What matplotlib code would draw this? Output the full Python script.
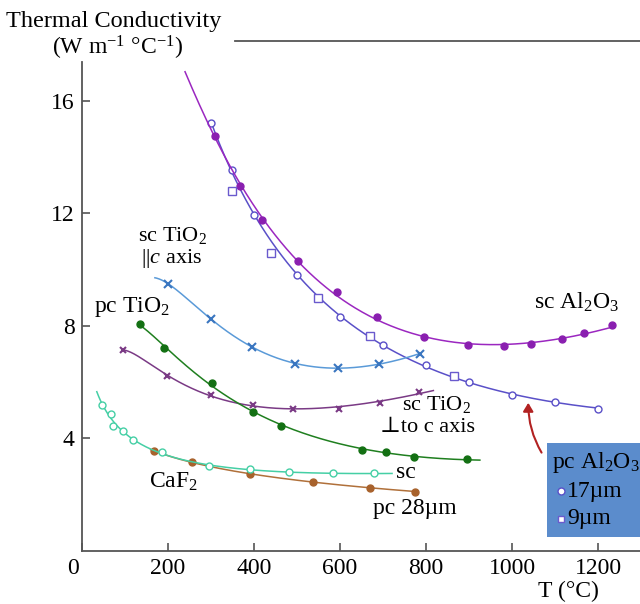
import numpy as np
import matplotlib
matplotlib.use("Agg")
import matplotlib.pyplot as plt
from matplotlib.patches import Rectangle, FancyArrowPatch
from matplotlib.lines import Line2D

plt.rcParams["font.family"] = ["Liberation Serif", "DejaVu Serif"]
plt.rcParams["mathtext.fontset"] = "custom"
plt.rcParams["mathtext.rm"] = "Liberation Serif"
plt.rcParams["mathtext.it"] = "Liberation Serif:italic"

# values (T in degC, k in W m-1 C-1)
al2o3_sc_T = [310, 368, 418, 502, 592, 685, 795, 898, 980, 1043, 1116, 1167, 1233]
al2o3_sc_k = [14.76, 12.97, 11.76, 10.31, 9.21, 8.30, 7.59, 7.32, 7.28, 7.34, 7.53, 7.73, 8.03]

al2o3_pc17_T = [300, 350, 400, 500, 600, 700, 800, 900, 1000, 1100, 1200]
al2o3_pc17_k = [15.2, 13.55, 11.95, 9.8, 8.3, 7.3, 6.6, 6.0, 5.55, 5.3, 5.05]

al2o3_pc9_T = [350, 440, 550, 670, 865]
al2o3_pc9_k = [12.8, 10.6, 9.0, 7.65, 6.2]

tio2_par_T = [200, 300, 395, 495, 595, 690, 785]
tio2_par_k = [9.5, 8.25, 7.25, 6.65, 6.5, 6.65, 7.0]

tio2_perp_T = [95, 198, 300, 397, 491, 598, 692, 783]
tio2_perp_k = [7.15, 6.2, 5.55, 5.2, 5.05, 5.05, 5.27, 5.65]

tio2_pc_T = [135, 192, 302, 399, 462, 652, 708, 772, 894]
tio2_pc_k = [8.05, 7.2, 5.95, 4.95, 4.45, 3.6, 3.5, 3.35, 3.25]

caf2_sc_T = [48, 67, 73, 97, 120, 187, 296, 391, 482, 584, 678]
caf2_sc_k = [5.2, 4.85, 4.45, 4.25, 3.95, 3.5, 3.0, 2.9, 2.8, 2.75, 2.75]

caf2_pc_T = [168, 257, 391, 538, 670, 774]
caf2_pc_k = [3.55, 3.15, 2.72, 2.45, 2.25, 2.1]

x_ticks = [0, 200, 400, 600, 800, 1000, 1200]
y_ticks = [4, 8, 12, 16]


def smooth(t, k, t0, t1, deg):
    # fitted curve through the points, in log(T)
    c = np.polyfit(np.log(t), k, deg)
    tt = np.linspace(t0, t1, 300)
    return tt, np.polyval(c, np.log(tt))


fig = plt.figure(figsize=(6.4, 6.04), dpi=100)
ax = fig.add_axes([0.1277, 0.0881, 0.8723, 0.8093])
ax.set_xlim(0, 1297)
ax.set_ylim(0, 17.38)

series = [
    (al2o3_pc17_T, al2o3_pc17_k, 300, 1200, 3, "#5a50c8", "o", "white", 5),
    (al2o3_sc_T, al2o3_sc_k, 240, 1233, 3, "#9b27c0", "o", "#8a1fb0", 5),
    (tio2_par_T, tio2_par_k, 170, 785, 3, "#5a9ad8", "x", "#3a76c0", 6),
    (tio2_perp_T, tio2_perp_k, 93, 817, 3, "#7a3a85", "x", "#7a3a85", 4.5),
    (tio2_pc_T, tio2_pc_k, 135, 925, 3, "#1f7f1f", "o", "#137013", 5),
    (caf2_pc_T, caf2_pc_k, 160, 774, 2, "#b0703a", "o", "#a8622c", 5),
    (caf2_sc_T, caf2_sc_k, 35, 721, 3, "#45cfa5", "o", "white", 5),
]
for t, k, t0, t1, deg, col, mk, fc, ms in series:
    tt, kk = smooth(t, k, t0, t1, deg)
    ax.plot(tt, kk, color=col, lw=1.1, clip_on=False)
    if mk == "x":
        ax.plot(t, k, ls="none", marker="x", color=fc, ms=ms, mew=1.5)
    else:
        ec = col if fc == "white" else fc
        ax.plot(t, k, ls="none", marker="o", mfc=fc, mec=ec, ms=ms, mew=1.0)

ax.plot(al2o3_pc9_T, al2o3_pc9_k, ls="none", marker="s", mfc="white",
        mec="#6a5acd", ms=5.5, mew=1.0)

for s in ["top", "right"]:
    ax.spines[s].set_visible(False)
for s in ["left", "bottom"]:
    ax.spines[s].set_color("#555555")
    ax.spines[s].set_linewidth(1.3)

ax.set_xticks(x_ticks)
ax.set_xticklabels([""] + [str(v) for v in x_ticks[1:]])
ax.set_yticks(y_ticks)
ax.tick_params(direction="in", length=6, width=1.2, color="#555555",
               labelsize=17, pad=5)
ax.text(-21, -0.25, "0", fontsize=17, ha="center", va="top")

fs = 17
ax.text(211, 11.22, "sc TiO$_2$", fontsize=16, ha="center", va="center")
ax.text(210, 10.38, "||$c$ axis", fontsize=16, ha="center", va="center")
ax.text(117, 8.67, "pc TiO$_2$", fontsize=fs, ha="center", va="center")
ax.text(1150, 8.84, "sc Al$_2$O$_3$", fontsize=fs, ha="center", va="center")
ax.text(824, 5.2, "sc TiO$_2$", fontsize=16, ha="center", va="center")
ax.text(803, 4.4, "\u22a5to c axis", fontsize=16, ha="center", va="center")
ax.text(212, 2.45, "CaF$_2$", fontsize=fs, ha="center", va="center")
ax.text(753, 2.80, "sc", fontsize=fs, ha="center", va="center")
ax.text(774, 1.52, "pc 28\u00b5m", fontsize=fs, ha="center", va="center")

fig.text(0.178, 0.9636, "Thermal Conductivity", fontsize=17.5, ha="center", va="center")
fig.text(0.183, 0.9205, "(W m$^{-1}$ \u00b0C$^{-1}$)", fontsize=fs, ha="center", va="center")
fig.add_artist(Line2D([0.367, 1.0], [0.932, 0.932], color="#555555", lw=1.3))
fig.text(0.8875, 0.02, "T (\u00b0C)", fontsize=fs, ha="center", va="center")

# legend box for pc Al2O3
fig.add_artist(Rectangle((0.8547, 0.111), 0.1453, 0.1556, transform=fig.transFigure,
                         facecolor="#5b8ccc", edgecolor="none"))
fig.text(0.8625, 0.235, "pc Al$_2$O$_3$", fontsize=fs, ha="left", va="center")
fig.add_artist(Line2D([0.877], [0.187], marker="o", mfc="white", mec="#5a50c8", ms=5))
fig.text(0.886, 0.187, "17\u00b5m", fontsize=fs, ha="left", va="center")
fig.add_artist(Line2D([0.877], [0.141], marker="s", mfc="white", mec="#6a5acd", ms=5))
fig.text(0.886, 0.141, "9\u00b5m", fontsize=fs, ha="left", va="center")

fig.add_artist(FancyArrowPatch((0.8484, 0.2467), (0.8255, 0.3377),
                               transform=fig.transFigure,
                               connectionstyle="arc3,rad=-0.15",
                               arrowstyle="-|>,head_length=5,head_width=3",
                               color="#b22222", lw=1.5))

fig.savefig("out.png", dpi=100)
